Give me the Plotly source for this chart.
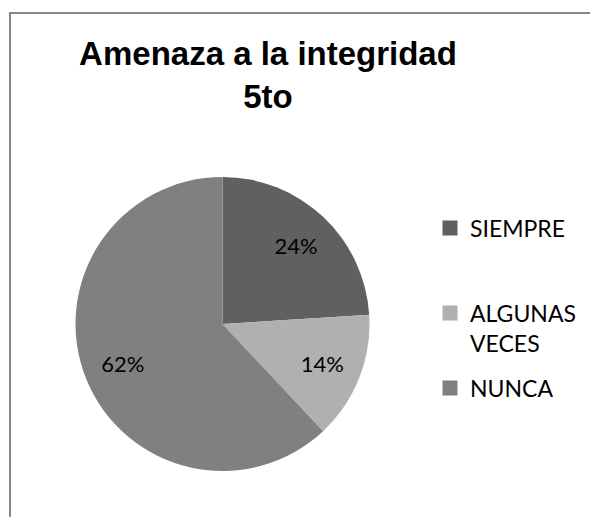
import plotly.graph_objects as go

categories = ["SIEMPRE", "ALGUNAS<br>VECES", "NUNCA"]
values = [24, 14, 62]
colors = ["#606060", "#b0b0b0", "#808080"]
title_text = "Amenaza a la integridad<br>5to"

W, H = 590, 517
cx, cy, r = 222.5, 324, 147
dom = dict(x=[(cx - r) / W, (cx + r) / W], y=[1 - (cy + r) / H, 1 - (cy - r) / H])

fig = go.Figure()

# filled pie (no text)
fig.add_trace(go.Pie(
    labels=categories, values=values, sort=False, direction="clockwise", rotation=0,
    marker=dict(colors=colors, line=dict(width=0)),
    textinfo="none", domain=dom, showlegend=False, hoverinfo="label+percent",
))
# transparent ring on top, used only to place the percentage labels like the original
fig.add_trace(go.Pie(
    labels=categories, values=values, sort=False, direction="clockwise", rotation=0,
    hole=0.46,
    marker=dict(colors=["rgba(0,0,0,0)"] * len(values), line=dict(width=0)),
    texttemplate="%{percent:.0%}", textposition="inside",
    insidetextorientation="horizontal",
    textfont=dict(family="Lato", size=22, color="#000000"),
    domain=dom, showlegend=False, hoverinfo="skip",
))

# legend entries (one legend per category so each sits where the original put it)
legend_names = ["legend", "legend2", "legend3"]
for name, col, lg in zip(categories, colors, legend_names):
    fig.add_trace(go.Scatter(
        x=[None], y=[None], mode="markers", name=name,
        marker=dict(symbol="square", size=15, color=col),
        legend=lg, showlegend=True, hoverinfo="skip",
    ))

leg_common = dict(
    xanchor="left", yanchor="middle",
    font=dict(family="Lato", size=23, color="#000000"),
    bgcolor="rgba(0,0,0,0)", borderwidth=0,
)
fig.update_layout(
    width=W, height=H,
    margin=dict(l=0, r=0, t=0, b=0),
    paper_bgcolor="white",
    plot_bgcolor="white",
    xaxis=dict(visible=False),
    yaxis=dict(visible=False),
    title=dict(
        text=title_text,
        x=268 / W, xanchor="center",
        y=1 - 65 / H, yanchor="top", yref="container",
        font=dict(family="Liberation Sans, Arial", size=33, color="#000000", weight="bold"),
    ),
    legend=dict(x=430 / W, y=1 - 228 / H, **leg_common),
    legend2=dict(x=430 / W, y=1 - 328 / H, valign="top", **leg_common),
    legend3=dict(x=430 / W, y=1 - 388 / H, **leg_common),
    shapes=[dict(type="rect", xref="paper", yref="paper",
                 x0=10 / W, x1=1.05, y0=-0.05, y1=1 - 13 / H,
                 line=dict(color="#878787", width=2), fillcolor="rgba(0,0,0,0)", layer="below")],
)

fig.write_html(
    "out.html",
    config={"displayModeBar": False},
    post_script="document.body.style.margin='0';document.body.style.overflow='hidden';",
)
